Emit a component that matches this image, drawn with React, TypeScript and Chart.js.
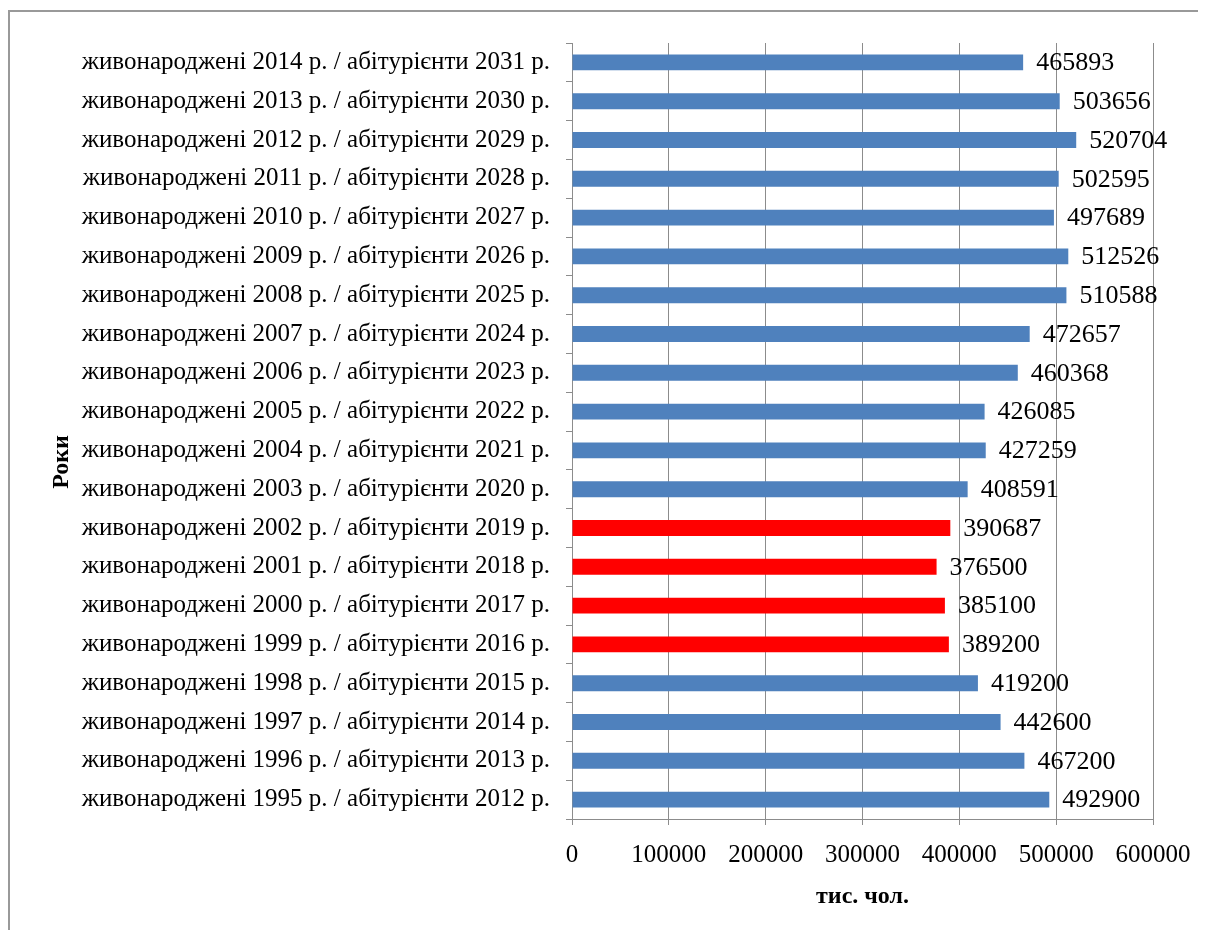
import React, { useEffect, useRef } from "react";
import { Chart, registerables } from "chart.js";

Chart.register(...registerables);

const birthYears = [1995, 1996, 1997, 1998, 1999, 2000, 2001, 2002, 2003, 2004, 2005, 2006, 2007, 2008, 2009, 2010, 2011, 2012, 2013, 2014];
const entryYears = [2012, 2013, 2014, 2015, 2016, 2017, 2018, 2019, 2020, 2021, 2022, 2023, 2024, 2025, 2026, 2027, 2028, 2029, 2030, 2031];
const births = [492900, 467200, 442600, 419200, 389200, 385100, 376500, 390687, 408591, 427259, 426085, 460368, 472657, 510588, 512526, 497689, 502595, 520704, 503656, 465893];
const highlightedBirthYears = [1999, 2000, 2001, 2002];
const xTicks = [0, 100000, 200000, 300000, 400000, 500000, 600000];

const categories = birthYears.map((b, i) => `живонароджені ${b} р. / абітурієнти ${entryYears[i]} р.`);
const BLUE = "#4F81BD";
const RED = "#FF0000";
const GRID = "#8c8c8c";
const FONT = "'Liberation Serif', 'Times New Roman', serif";

const labelPlugin = {
  id: "valueLabels",
  afterDatasetsDraw(chart: any) {
    const ctx = chart.ctx;
    const meta = chart.getDatasetMeta(0);
    ctx.save();
    ctx.font = `26px ${FONT}`;
    ctx.fillStyle = "#000";
    ctx.textAlign = "left";
    ctx.textBaseline = "middle";
    meta.data.forEach((el: any, i: number) => {
      ctx.fillText(String(births[i]), el.x + 13, el.y + 1);
    });
    ctx.restore();
  },
};

const titlePlugin = {
  id: "axisTitles",
  afterDraw(chart: any) {
    const ctx = chart.ctx;
    const a = chart.chartArea;
    ctx.save();
    ctx.fillStyle = "#000";
    ctx.font = `bold 24px ${FONT}`;
    ctx.textAlign = "center";
    ctx.textBaseline = "middle";
    ctx.fillText("тис. чол.", (a.left + a.right) / 2, 885);
    ctx.translate(52, 450);
    ctx.rotate(-Math.PI / 2);
    ctx.fillText("Роки", 0, 0);
    ctx.restore();
  },
};

export default function App() {
  const ref = useRef<HTMLCanvasElement>(null);
  useEffect(() => {
    if (!ref.current) return;
    const chart = new Chart(ref.current, {
      type: "bar",
      data: {
        labels: categories,
        datasets: [
          {
            data: births,
            backgroundColor: birthYears.map((b) => (highlightedBirthYears.includes(b) ? RED : BLUE)),
            categoryPercentage: 1,
            barPercentage: 0.41,
            borderWidth: 0,
          },
        ],
      },
      options: {
        indexAxis: "y",
        animation: false,
        responsive: true,
        maintainAspectRatio: false,
        layout: { padding: { left: 0, top: 30, right: 53, bottom: 0 } },
        plugins: { legend: { display: false }, tooltip: { enabled: false } },
        scales: {
          x: {
            min: 0,
            max: 600000,
            afterBuildTicks: (s: any) => {
              s.ticks = xTicks.map((v) => ({ value: v }));
            },
            afterFit: (s: any) => {
              s.height = 111;
            },
            ticks: {
              color: "#000",
              font: { family: FONT, size: 25 },
              padding: 15,
              maxRotation: 0,
              autoSkip: false,
              callback: (v: any) => String(v),
            },
            grid: { color: GRID, lineWidth: 1, tickLength: 6, drawTicks: true },
            border: { color: GRID, width: 1 },
          },
          y: {
            reverse: true,
            afterFit: (s: any) => {
              s.width = 562;
            },
            ticks: {
              color: "#000",
              font: { family: FONT, size: 25 },
              padding: 16,
              autoSkip: false,
            },
            grid: { display: true, drawOnChartArea: false, color: GRID, tickLength: 6, offset: true },
            border: { color: GRID, width: 1 },
          },
        },
      },
      plugins: [labelPlugin, titlePlugin],
    });
    return () => chart.destroy();
  }, []);

  return (
    <div
      style={{
        marginTop: 2,
        width: 1198,
        height: 920,
        boxSizing: "border-box",
        borderTop: "2px solid #999",
        borderLeft: "2px solid #999",
        background: "#fff",
      }}
    >
      <div style={{ position: "relative", width: 1196, height: 918 }}>
        <canvas ref={ref} />
      </div>
    </div>
  );
}
